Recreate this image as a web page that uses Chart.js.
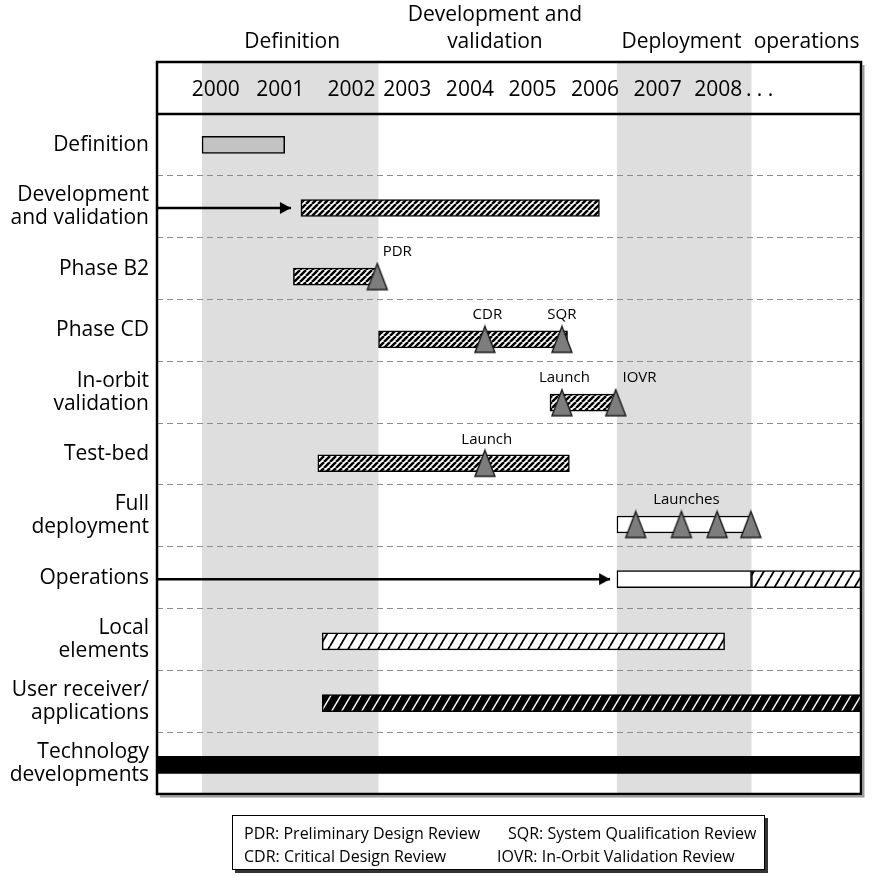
<!DOCTYPE html>
<html>
<head>
<meta charset="utf-8">
<script src="https://cdn.jsdelivr.net/npm/chart.js@4.4.0/dist/chart.umd.min.js"></script>
<style>
  html, body { margin: 0; padding: 0; background: #fff; overflow: hidden; }
  #wrap { position: relative; width: 872px; height: 877px; }
  #cvg { display: block; }
  #legendBox { position: absolute; left: 232px; top: 815px; width: 531px; height: 53px;
    border: 1.5px solid #000; box-shadow: 3px 3px 0 #333; background: #fff;
    font: 16px 'Open Sans', sans-serif; color: #000; }
  #legendBox span { position: absolute; white-space: nowrap; line-height: 20px; }
</style>
</head>
<body>
<div id="wrap">
  <canvas id="cvg" width="872" height="877"></canvas>
  <div id="legendBox">
    <span style="left:11px;top:7px">PDR: Preliminary Design Review</span>
    <span style="left:275px;top:7px">SQR: System Qualification Review</span>
    <span style="left:11px;top:30px">CDR: Critical Design Review</span>
    <span style="left:264px;top:30px">IOVR: In-Orbit Validation Review</span>
  </div>
</div>
<script>
(function(){

	// year axis (tick positions, in years)
	var yearTicks = [1999.94, 2000.97, 2002.11, 2003.0, 2004.0, 2005.0, 2006.0, 2007.0, 2007.97, 2008.63];
	var yearLabels = ['2000', '2001', '2002', '2003', '2004', '2005', '2006', '2007', '2008', '. . .'];

	// rows
	var rowLabels = ['Definition', ['Development', 'and validation'], 'Phase B2', 'Phase CD',
		['In-orbit', 'validation'], 'Test-bed', ['Full', 'deployment'], 'Operations',
		['Local', 'elements'], ['User receiver/', 'applications'], ['Technology', 'developments']];

	// programme phases (shaded bands + titles)
	var phaseNames = [['Definition'], ['Development and', 'validation'], ['Deployment'], ['operations']];
	var phaseCenters = [2001.16, 2004.40, 2007.38, 2009.38];
	var shadedBands = [[1999.72, 2002.54], [2006.35, 2008.50]];

	// bars
	var barStart = [1999.72, 2001.30, 2001.18, 2002.54, 2005.28, 2001.57, 2006.35, 2006.35, 2008.50, 2001.64, 2001.64, 1998.5];
	var barEnd   = [2001.04, 2006.07, 2002.54, 2005.56, 2006.33, 2005.59, 2008.49, 2008.50, 2010.5, 2008.07, 2010.5, 2010.5];
	var barRow   = [0.5, 1.52, 2.63, 3.645, 4.67, 5.65, 6.64, 7.525, 7.525, 8.53, 9.53, 10.53];
	var barFill  = ['grey', 'dense', 'dense', 'dense', 'dense', 'dense', 'white', 'white', 'sparse', 'sparse', 'blackHatch', 'black'];

	// milestones (triangles)
	var msX   = [2002.52, 2004.24, 2005.47, 2005.47, 2006.33, 2004.24, 2006.65, 2007.38, 2007.95, 2008.49];
	var msRow = [2.63, 3.645, 3.645, 4.67, 4.67, 5.65, 6.64, 6.64, 6.64, 6.64];

	// milestone captions
	var capText = ['PDR', 'CDR', 'SQR', 'Launch', 'IOVR', 'Launch', 'Launches'];
	var capX    = [2002.84, 2004.28, 2005.47, 2005.51, 2006.71, 2004.27, 2007.46];
	var capRow  = [2.235, 3.24, 3.24, 4.26, 4.26, 5.265, 6.237];

	// arrows coming in from the left edge
	var arrowStart = [1999.0, 1999.0];
	var arrowEnd = [2001.14, 2006.24];
	var arrowRow = [1.52, 7.525];

	var FONT = "'Open Sans', sans-serif";
	var FRAME_RIGHT = 866;

	var cv = document.getElementById('cvg');
	var ctx = cv.getContext('2d');

	function hatch(w, h, bg, fg, lw){
		var c = document.createElement('canvas');
		c.width = w; c.height = h;
		var g = c.getContext('2d');
		g.fillStyle = bg; g.fillRect(0, 0, w, h);
		g.strokeStyle = fg; g.lineWidth = lw;
		g.beginPath();
		for (var k = -1; k <= 1; k++){
			g.moveTo(k * w, h);
			g.lineTo(k * w + w, 0);
		}
		g.stroke();
		return ctx.createPattern(c, 'repeat');
	}

	var fills = {
		grey: '#c3c3c3',
		white: '#ffffff',
		black: '#000000',
		dense: hatch(6, 6, '#fff', '#000', 2.5),
		sparse: hatch(10, 17, '#fff', '#000', 1.8),
		blackHatch: hatch(10, 17, '#000', '#fff', 1.4)
	};

	function triangle(){
		var c = document.createElement('canvas');
		c.width = 24; c.height = 30;
		var g = c.getContext('2d');
		g.beginPath();
		g.moveTo(12, 2); g.lineTo(22, 28); g.lineTo(2, 28); g.closePath();
		g.fillStyle = '#7d7d7d'; g.fill();
		g.lineWidth = 1.4; g.strokeStyle = '#1a1a1a'; g.stroke();
		return c;
	}
	function arrowHead(){
		// tip sits at the centre of the image
		var c = document.createElement('canvas');
		c.width = 24; c.height = 14;
		var g = c.getContext('2d');
		g.beginPath();
		g.moveTo(12, 7); g.lineTo(1, 1); g.lineTo(1, 13); g.closePath();
		g.fillStyle = '#000'; g.fill();
		return c;
	}
	var triImg = triangle();
	var arrowImg = arrowHead();

	var arrowData = [];
	var arrowStyles = [];
	var arrowRadius = [];
	for (var i = 0; i < arrowEnd.length; i++){
		arrowData.push({x: arrowStart[i], y: arrowRow[i]}, {x: arrowEnd[i], y: arrowRow[i]}, {x: NaN, y: NaN});
		arrowStyles.push('circle', arrowImg, 'circle');
		arrowRadius.push(0, 5, 0);
	}

	var backdrop = {
		id: 'backdrop',
		beforeDraw: function(chart){
			var c = chart.ctx, a = chart.chartArea, xs = chart.scales.x;
			c.save();
			c.fillStyle = '#dedede';
			shadedBands.forEach(function(b){
				var x0 = xs.getPixelForValue(b[0]), x1 = xs.getPixelForValue(b[1]);
				c.fillRect(x0, xs.top, x1 - x0, a.bottom - xs.top);
			});
			c.restore();
		},
		afterDatasetsDraw: function(chart){
			var c = chart.ctx, xs = chart.scales.x, ys = chart.scales.yb;
			c.save();
			c.fillStyle = '#000';
			c.font = '15px ' + FONT;
			c.textAlign = 'center';
			c.textBaseline = 'middle';
			for (var i = 0; i < capText.length; i++){
				c.fillText(capText[i], xs.getPixelForValue(capX[i]), ys.getPixelForValue(capRow[i]));
			}
			c.restore();
		},
		afterDraw: function(chart){
			var c = chart.ctx, a = chart.chartArea, xs = chart.scales.x;
			var top = xs.top;
			c.save();
			// shadow
			c.strokeStyle = '#9a9a9a';
			c.lineWidth = 2;
			c.beginPath();
			c.moveTo(a.left + 3, a.bottom + 2.5);
			c.lineTo(a.right + 2.5, a.bottom + 2.5);
			c.lineTo(a.right + 2.5, top + 3);
			c.stroke();
			// frame + header line
			c.strokeStyle = '#000';
			c.lineWidth = 2.5;
			c.strokeRect(a.left, top, a.right - a.left, a.bottom - top);
			c.beginPath();
			c.moveTo(a.left, a.top); c.lineTo(a.right, a.top);
			c.stroke();
			// phase titles above the frame
			c.fillStyle = '#000';
			c.font = '21px ' + FONT;
			c.textAlign = 'center';
			c.textBaseline = 'middle';
			phaseNames.forEach(function(lines, k){
				var px = xs.getPixelForValue(phaseCenters[k]);
				for (var j = 0; j < lines.length; j++){
					c.fillText(lines[j], px, 42 - (lines.length - 1 - j) * 27);
				}
			});
			c.restore();
		}
	};

	var chart = new Chart(ctx, {
		type: 'bar',
		data: {
			datasets: [
				{
					type: 'scatter',
					data: msX.map(function(v, i){ return {x: v, y: msRow[i]}; }),
					pointStyle: triImg,
					pointRadius: 10,
					xAxisID: 'x', yAxisID: 'yb',
					order: 0, clip: false
				},
				{
					type: 'line',
					data: arrowData,
					borderColor: '#000',
					borderWidth: 2.6,
					pointStyle: arrowStyles,
					pointRadius: arrowRadius,
					spanGaps: false,
					xAxisID: 'x', yAxisID: 'yb',
					order: 1
				},
				{
					type: 'bar',
					indexAxis: 'y',
					data: barRow.map(function(r, i){ return {x: [barStart[i], barEnd[i]], y: r}; }),
					backgroundColor: barFill.map(function(k){ return fills[k]; }),
					borderColor: '#000',
					borderWidth: barFill.map(function(k){ return k === 'black' ? 0 : 1.5; }),
					borderSkipped: false,
					barThickness: 17,
					xAxisID: 'x', yAxisID: 'yb',
					order: 2, clip: 0
				}
			]
		},
		options: {
			responsive: false,
			animation: false,
			layout: { padding: { top: 62, right: 6, bottom: 83, left: 0 } },
			plugins: { legend: { display: false }, tooltip: { enabled: false } },
			scales: {
				x: {
					type: 'linear',
					position: 'top',
					offset: false,
					min: 1999, max: 2010.25,
					grid: { display: false, drawTicks: false, offset: false },
					border: { display: false },
					afterBuildTicks: function(s){ s.ticks = yearTicks.map(function(v){ return {value: v}; }); },
					afterFit: function(s){ s.height = 52; s.paddingLeft = 0; s.paddingRight = 0; },
					ticks: {
						autoSkip: false, maxRotation: 0, padding: 11, color: '#000',
						font: { family: FONT, size: 21 },
						callback: function(v, i){ return yearLabels[i]; }
					}
				},
				y: {
					type: 'category',
					labels: rowLabels,
					position: 'left',
					offset: true,
					afterFit: function(s){ s.width = 157; },
					grid: { offset: true, drawTicks: false, color: '#8c8c8c', lineWidth: 1 },
					border: { display: false, dash: [6, 4] },
					ticks: { padding: 8, color: '#000', font: { family: FONT, size: 21, lineHeight: 1.1 } }
				},
				yb: {
					type: 'linear',
					display: false,
					offset: false,
					grid: { offset: false },
					min: 0, max: 11,
					reverse: true
				}
			}
		},
		plugins: [backdrop]
	});

	// pull the right edge of the plot frame out to where it sits in the picture
	var gap = FRAME_RIGHT - chart.chartArea.right;
	if (Math.abs(gap) > 0.5){
		chart.options.layout.padding.right = Math.max(0, 6 - gap);
		chart.update();
	}

})();
</script>
</body>
</html>
